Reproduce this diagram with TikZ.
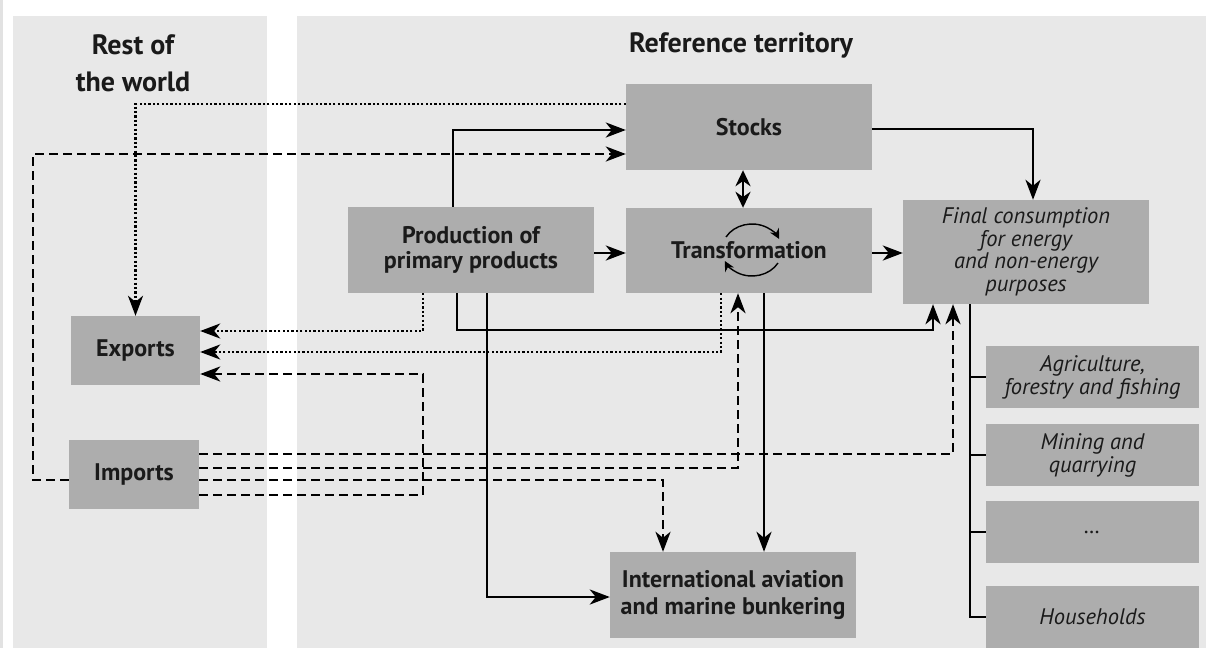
\documentclass[tikz,border=0pt]{standalone}
\usepackage{fontspec}
\setmainfont{PT Sans}
\usetikzlibrary{arrows.meta,calc}
\definecolor{panel}{HTML}{E8E8E8}
\definecolor{boxgray}{HTML}{ADADAD}
\definecolor{strip}{HTML}{E2E2E2}
\definecolor{ink}{HTML}{1A1A1A}
\begin{document}
\begin{tikzpicture}[x=1pt,y=-1pt,
  box/.style={fill=boxgray, draw=none, inner sep=0pt, align=center, text=ink,
    font=\fontsize{24}{25}\selectfont\bfseries},
  ibox/.style={box, font=\fontsize{22.5}{22.5}\selectfont\itshape},
  ln/.style={line width=2.8pt, draw=black},
  dashln/.style={line width=2.8pt, dash pattern=on 9pt off 5pt},
  dotln/.style={line width=2.4pt, dash pattern=on 2.2pt off 2.2pt},
  arr/.style={-{Stealth[length=20pt,width=15pt,inset=6pt]}},
  ttl/.style={font=\fontsize{28}{37}\selectfont\bfseries, align=center, text=ink, inner sep=0pt}
]
\useasboundingbox (0,0) rectangle (1206,648);
\fill[white] (0,0) rectangle (1206,648);
\fill[strip] (0,0) rectangle (3,648);
\fill[panel] (13,16) rectangle (267,648);
\fill[panel] (297,16) rectangle (1206,648);

\node[ttl] (wtitle) at (133,63) {Rest of\\the world};
\node[ttl] (rtitle) at (741,45) {Reference territory};

\node[box, minimum width=246pt, minimum height=86pt] (stocks) at (749,127) {Stocks};
\node[box, minimum width=246pt, minimum height=85pt] (trans) at (749,250.5) {Transformation};
\node[box, minimum width=246pt, minimum height=86pt] (prod) at (471,250) {Production of\\primary products};
\node[ibox, minimum width=246pt, minimum height=104pt] (final) at (1026,252) {Final consumption\\for energy\\and non-energy\\purposes};
\node[box, minimum width=129pt, minimum height=69pt] (exports) at (135.5,350.5) {Exports};
\node[box, minimum width=130pt, minimum height=69pt] (imports) at (134,474.5) {Imports};
\node[ibox, minimum width=213pt, minimum height=62pt, font=\fontsize{22.5}{23}\selectfont\itshape] (agri) at (1092.5,377) {Agriculture,\\forestry and fishing};
\node[ibox, minimum width=213pt, minimum height=62pt, font=\fontsize{22.5}{23}\selectfont\itshape] (mining) at (1092.5,455) {Mining and\\quarrying};
\node[ibox, minimum width=213pt, minimum height=62pt] (etc) at (1092.5,532) {\dots};
\node[ibox, minimum width=213pt, minimum height=62pt] (house) at (1092.5,617) {Households};
\node[box, minimum width=246pt, minimum height=86pt, font=\fontsize{24}{27}\selectfont\bfseries] (bunker) at (733,595) {International aviation\\and marine bunkering};

% cycle icon inside transformation
\draw[line width=1.4pt, -{Stealth[length=10pt,width=10pt]}] (752,250) ++(-150:30 and 26) arc[start angle=-150, end angle=-25, x radius=30, y radius=26];
\draw[line width=1.4pt, -{Stealth[length=10pt,width=10pt]}] (752,250) ++(30:30 and 26) arc[start angle=30, end angle=155, x radius=30, y radius=26];

% dotted flows to exports
\draw[dotln, arr] (stocks.west |- 0,104) -| (exports.north);
\draw[dotln, arr] (prod.south -| 423,0) |- (exports.east |- 0,331);
\draw[dotln, arr] (trans.south -| 721,0) |- (exports.east |- 0,352);

% imports to stocks
\draw[dashln, arr] (imports.west |- 0,480) -- (33,480) |- (stocks.west |- 0,154);

% solid flows
\draw[ln, arr] (prod.north -| 453,0) |- (stocks.west |- 0,130);
\draw[ln, {Stealth[length=16pt,width=15pt]}-{Stealth[length=16pt,width=15pt]}] (stocks.south -| 743,0) -- (trans.north -| 743,0);
\draw[ln, arr] (prod.east |- 0,253) -- (trans.west |- 0,253);
\draw[ln, arr] (trans.east |- 0,253) -- (final.west |- 0,253);
\draw[ln, arr] (stocks.east |- 0,129) -| (final.north -| 1033,0);
\draw[ln, arr] (prod.south -| 457,0) |- (933,330) -- (final.south -| 933,0);
\draw[ln, arr] (prod.south -| 487,0) |- (bunker.west |- 0,597);
\draw[ln, arr] (trans.south -| 764,0) -- (bunker.north -| 764,0);

% imports dashed flows
\draw[dashln, arr] (imports.east |- 0,454) -| (final.south -| 953,0);
\draw[dashln, arr] (imports.east |- 0,468) -| (trans.south -| 738,0);
\draw[dashln, arr] (imports.east |- 0,480) -| (bunker.north -| 663,0);
\draw[dashln, arr] (imports.east |- 0,495) -- (423,495) |- (exports.east |- 0,374);

% final consumption tree
\draw[ln] (final.south -| 970,0) |- (house.west);
\draw[ln] (agri.west -| 970,0) -- (agri.west);
\draw[ln] (mining.west -| 970,0) -- (mining.west);
\draw[ln] (etc.west -| 970,0) -- (etc.west);
\end{tikzpicture}
\end{document}
